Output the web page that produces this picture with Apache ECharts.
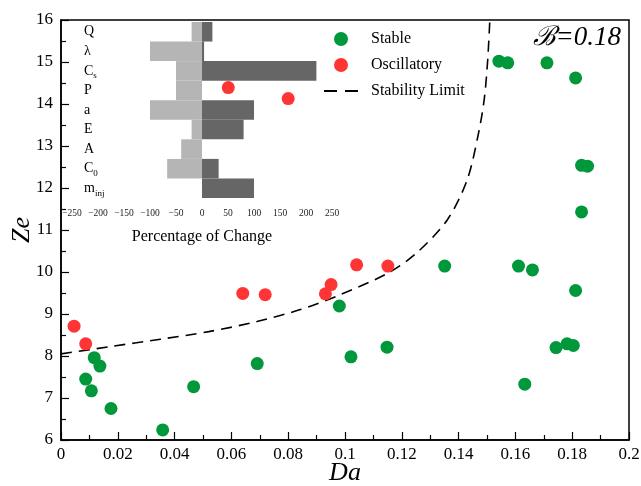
<!DOCTYPE html>
<html>
<head>
<meta charset="utf-8">
<script src="https://cdn.jsdelivr.net/npm/echarts@6/dist/echarts.min.js"></script>
<style>
html,body{margin:0;padding:0;background:#fff;}
#main{width:641px;height:486px;}
</style>
</head>
<body>
<div id="main"></div>
<script>
// stable points (Da, Ze)
var stableDa = [0.0358, 0.0176, 0.0107, 0.0087, 0.0117, 0.0137, 0.0467, 0.0691, 0.098, 0.1021, 0.1148, 0.1351, 0.1611,
	0.166, 0.1812, 0.1633, 0.1743, 0.1782, 0.1804, 0.1833, 0.1833, 0.1854, 0.1812, 0.1711, 0.1542, 0.1573];
var stableZe = [6.24, 6.75, 7.17, 7.45, 7.96, 7.76, 7.27, 7.82, 9.19, 7.98, 8.21, 10.14, 10.14,
	10.05, 9.56, 7.33, 8.20, 8.29, 8.25, 11.43, 12.54, 12.52, 14.62, 14.98, 15.02, 14.98];
// oscillatory points
var oscDa = [0.0046, 0.0087, 0.064, 0.0719, 0.0931, 0.0951, 0.1041, 0.1151, 0.0589, 0.080];
var oscZe = [8.71, 8.29, 9.49, 9.46, 9.48, 9.70, 10.17, 10.14, 14.39, 14.13];
// stability limit
var limitDa = [0, 0.017, 0.035, 0.052, 0.069, 0.084, 0.098, 0.115, 0.125, 0.136, 0.143, 0.147, 0.149, 0.1502, 0.151];
var limitZe = [8.05, 8.22, 8.40, 8.58, 8.82, 9.10, 9.45, 9.97, 10.44, 11.24, 12.19, 13.30, 14.10, 15.0, 16.0];
// inset: percentage of change
var params = ['Q', 'λ', 'C_s', 'P', 'a', 'E', 'A', 'C_0', 'm_inj'];
var pctDown = [-20, -100, -50, -50, -100, -20, -40, -67, 0];
var pctUp = [20, 4, 220, 0, 100, 80, 0, 32, 100];

function pairs(xs, ys) {
	var out = [];
	for (var i = 0; i < xs.length; i++) {
		out.push([xs[i], ys[i]]);
	}
	return out;
}

var serif = 'Liberation Serif';
var myChart = echarts.init(document.getElementById('main'));
var option = {
	backgroundColor: '#fff',
	animation: false,
	textStyle: {fontFamily: serif, color: '#000'},
	grid: [
		{left: 61, right: 12, top: 20, bottom: 46, outerBoundsMode: 'none', containLabel: false,
			show: true, borderColor: '#000', borderWidth: 1.5, z: 1},
		{left: 72, width: 260, top: 22, height: 176, outerBoundsMode: 'none', containLabel: false, show: false}
	],
	xAxis: [
		{
			gridIndex: 0, type: 'value', min: 0, max: 0.2, interval: 0.02,
			name: 'Da', nameLocation: 'middle', nameGap: 20, nameMoveOverlap: false,
			nameTextStyle: {fontFamily: serif, fontStyle: 'italic', fontSize: 26, color: '#000'},
			axisLine: {lineStyle: {color: '#000', width: 1.5}},
			axisTick: {inside: true, length: 8, lineStyle: {color: '#000', width: 1.2}},
			minorTick: {show: true, splitNumber: 2, length: 5, lineStyle: {color: '#000', width: 1.2}},
			axisLabel: {fontFamily: serif, fontSize: 17, color: '#000', margin: 6},
			splitLine: {show: false}
		},
		{
			gridIndex: 1, type: 'value', min: -250, max: 250, interval: 50, offset: 5,
			name: 'Percentage of Change', nameLocation: 'middle', nameGap: 26,
			nameTextStyle: {fontFamily: serif, fontSize: 16, color: '#000'},
			axisLine: {lineStyle: {color: '#000', width: 1}},
			axisTick: {inside: true, length: 5, lineStyle: {color: '#000', width: 1}},
			axisLabel: {
				fontFamily: serif, fontSize: 9.5, color: '#222', margin: 5,
				formatter: function(v) { return v < 0 ? '\u2212' + (-v) : '' + v; }
			},
			splitLine: {show: false}
		}
	],
	yAxis: [
		{
			gridIndex: 0, type: 'value', min: 6, max: 16, interval: 1,
			name: 'Ze', nameLocation: 'middle', nameGap: 26, nameRotate: 90, nameMoveOverlap: false,
			nameTextStyle: {fontFamily: serif, fontStyle: 'italic', fontSize: 26, color: '#000'},
			axisLine: {lineStyle: {color: '#000', width: 1.5}},
			axisTick: {inside: true, length: 8, lineStyle: {color: '#000', width: 1.2}},
			minorTick: {show: true, splitNumber: 2, length: 5, lineStyle: {color: '#000', width: 1.2}},
			axisLabel: {fontFamily: serif, fontSize: 17, color: '#000', margin: 8},
			splitLine: {show: false}
		},
		{
			gridIndex: 1, type: 'category', data: params, inverse: true,
			axisLine: {show: false}, axisTick: {show: false},
			axisLabel: {
				align: 'left', margin: -12, color: '#000',
				formatter: function(v) {
					var p = v.split('_');
					if (p.length > 1) return '{m|' + p[0] + '}{s|' + p[1] + '}';
					return '{m|' + v + '}';
				},
				rich: {
					m: {fontFamily: serif, fontSize: 14, color: '#000'},
					s: {fontFamily: serif, fontSize: 9, color: '#000', padding: [10, 0, 0, 0]}
				}
			}
		}
	],
	legend: {
		orient: 'vertical', left: 319, top: 26, itemWidth: 34, itemHeight: 14, itemGap: 10,
		data: [
			{name: 'Stable', icon: 'circle'},
			{name: 'Oscillatory', icon: 'circle'},
			{name: 'Stability Limit', icon: 'path://M0,0h13v2h-13z M21,0h13v2h-13z'}
		],
		textStyle: {fontFamily: serif, fontSize: 16, color: '#000', padding: [0, 0, 0, 8]}
	},
	graphic: [
		{
			type: 'text', right: 20, top: 24, z: 10,
			style: {text: 'ℬ=0.18', font: 'italic 27px "Liberation Serif"', fill: '#000'}
		}
	],
	series: [
		{
			name: 'decrease', type: 'bar', xAxisIndex: 1, yAxisIndex: 1, data: pctDown,
			barWidth: '100%', barGap: '-100%', itemStyle: {color: '#b5b5b5'}, z: 2, silent: true
		},
		{
			name: 'increase', type: 'bar', xAxisIndex: 1, yAxisIndex: 1, data: pctUp,
			barWidth: '100%', barGap: '-100%', itemStyle: {color: '#666666'}, z: 2, silent: true
		},
		{
			name: 'Stability Limit', type: 'line', xAxisIndex: 0, yAxisIndex: 0,
			data: pairs(limitDa, limitZe), smooth: 0.3, symbol: 'none', showSymbol: false,
			lineStyle: {color: '#000', width: 1.6, type: [11, 7]}, itemStyle: {color: '#000'}, z: 3
		},
		{
			name: 'Stable', type: 'scatter', xAxisIndex: 0, yAxisIndex: 0,
			data: pairs(stableDa, stableZe), symbolSize: 13, itemStyle: {color: '#00983a', opacity: 1}, z: 5
		},
		{
			name: 'Oscillatory', type: 'scatter', xAxisIndex: 0, yAxisIndex: 0,
			data: pairs(oscDa, oscZe), symbolSize: 13, itemStyle: {color: '#ff3535', opacity: 1}, z: 5
		}
	]
};
myChart.setOption(option);
</script>
</body>
</html>
